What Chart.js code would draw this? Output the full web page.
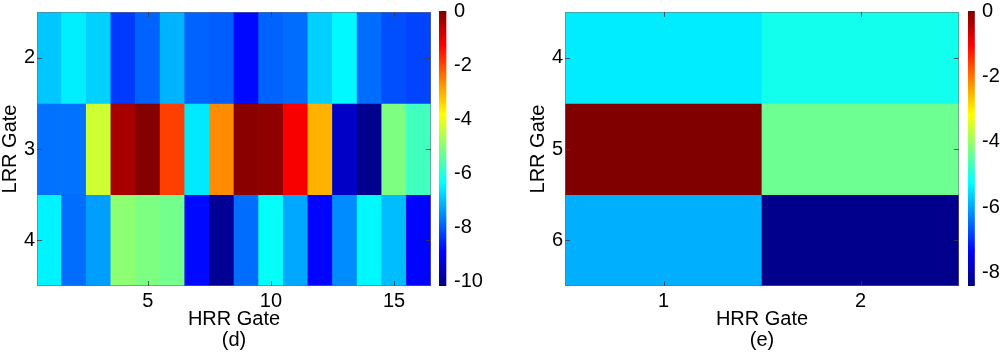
<!DOCTYPE html>
<html>
<head>
<meta charset="utf-8">
<script src="https://cdn.jsdelivr.net/npm/chart.js@4/dist/chart.umd.min.js"></script>
<style>
  html, body { margin: 0; padding: 0; background: #fff; }
  #wrap { position: relative; width: 1000px; height: 355px; overflow: hidden; background: #fff; }
  canvas { position: absolute; top: 0; }
</style>
</head>
<body>
<div id="wrap">
  <canvas id="hmD" width="440" height="355" style="left:0px"></canvas>
  <canvas id="cbD" width="61" height="355" style="left:439px"></canvas>
  <canvas id="hmE" width="440" height="355" style="left:528px"></canvas>
  <canvas id="cbE" width="32" height="355" style="left:968px"></canvas>
</div>
<script>
// ---------- Panel (d) data ----------
const hrrD = ['1','2','3','4','5','6','7','8','9','10','11','12','13','14','15','16'];
const hrrTicksD = ['5','10','15'];
const lrrD = [2, 3, 4];
const valsD2 = [-6.9, -6.5, -6.8, -8.3, -7.9, -7.1, -7.9, -7.95, -8.8, -7.9, -7.8, -6.8, -6.4, -7.8, -8.1, -8.2];
const valsD3 = [-7.75, -7.75, -4.3, -0.4, -0.05, -1.9, -6.55, -2.65, -0.1, -0.15, -1.2, -3.05, -9.45, -10.0, -5.1, -5.7];
const valsD4 = [-6.45, -7.8, -7.3, -4.95, -5.1, -5.2, -8.8, -9.95, -7.8, -6.3, -7.2, -8.85, -7.5, -6.4, -7.0, -8.85];
const rangeD = [-10.15, 0];
const cbTicksD = [0, -2, -4, -6, -8, -10];

// ---------- Panel (e) data ----------
const hrrE = ['1','2'];
const hrrTicksE = ['1','2'];
const lrrE = [4, 5, 6];
const valsE4 = [-5.4, -5.1];
const valsE5 = [0, -4.35];
const valsE6 = [-5.9, -8.3];
const rangeE = [-8.4, 0];
const cbTicksE = [0, -2, -4, -6, -8];

// ---------- helpers ----------
const FONT = { family: "'Liberation Sans', Arial, sans-serif", size: 20, lineHeight: 1 };
Chart.defaults.font.family = FONT.family;
Chart.defaults.color = '#000';

const jetStops = [[0,[0,0,128]],[0.125,[0,0,255]],[0.375,[0,255,255]],[0.625,[255,255,0]],[0.875,[255,0,0]],[1,[128,0,0]]];
function jet(t) {
  t = Math.max(0, Math.min(1, t));
  for (let i = 1; i < jetStops.length; i++) {
    const [t1, c1] = jetStops[i];
    const [t0, c0] = jetStops[i-1];
    if (t <= t1) {
      const f = (t - t0) / (t1 - t0);
      const c = c0.map((a, k) => Math.round(a + (c1[k] - a) * f));
      return `rgb(${c[0]},${c[1]},${c[2]})`;
    }
  }
  return 'rgb(128,0,0)';
}

const inwardTicks = {
  id: 'inwardTicks',
  afterDatasetsDraw(chart) {
    const {ctx, chartArea: a, scales: {x, y}} = chart;
    ctx.save();
    ctx.strokeStyle = 'rgba(110,110,110,0.55)';
    ctx.lineWidth = 1;
    ctx.strokeRect(a.left + 0.5, a.top + 0.5, a.right - a.left - 1, a.bottom - a.top - 1);
    ctx.strokeStyle = 'rgba(60,60,60,0.8)';
    const L = 5;
    x.ticks.forEach((t, i) => {
      if (t.label === '' || t.label == null) return;
      const px = Math.round(x.getPixelForTick(i)) + 0.5;
      ctx.beginPath();
      ctx.moveTo(px, a.bottom); ctx.lineTo(px, a.bottom - L);
      ctx.moveTo(px, a.top); ctx.lineTo(px, a.top + L);
      ctx.stroke();
    });
    y.ticks.forEach((t) => {
      const py = Math.round(y.getPixelForValue(t.value)) + 0.5;
      ctx.beginPath();
      ctx.moveTo(a.left, py); ctx.lineTo(a.left + L, py);
      ctx.moveTo(a.right, py); ctx.lineTo(a.right - L, py);
      ctx.stroke();
    });
    ctx.restore();
  }
};

function makeHeatmap(id, xLabels, xShown, rows, rowVals, range, caption) {
  const datasets = rows.map((r, i) => ({
    data: xLabels.map(() => [r - 0.5, r + 0.5]),
    backgroundColor: rowVals[i].map(v => jet((v - range[0]) / (range[1] - range[0]))),
    borderWidth: 0,
    grouped: false,
    barPercentage: 1,
    categoryPercentage: 1
  }));
  return new Chart(document.getElementById(id), {
    type: 'bar',
    data: { labels: xLabels, datasets },
    options: {
      responsive: false,
      animation: false,
      devicePixelRatio: 1,
      layout: { padding: { top: 10, right: 9, left: 0, bottom: 0 } },
      plugins: { legend: { display: false }, tooltip: { enabled: false } },
      scales: {
        x: {
          type: 'category',
          offset: true,
          grid: { display: false, drawTicks: false },
          border: { display: false },
          ticks: {
            font: FONT, padding: 5, autoSkip: false, maxRotation: 0,
            callback: function (v) { const l = this.getLabelForValue(v); return xShown.includes(l) ? l : ''; }
          },
          title: { display: true, text: ['HRR Gate', caption], font: { ...FONT, lineHeight: 1.06 }, padding: { top: 0, bottom: 4 } },
          afterFit: (s) => { s.height = 69; }
        },
        y: {
          type: 'linear',
          reverse: true,
          min: rows[0] - 0.5,
          max: rows[rows.length - 1] + 0.5,
          grid: { display: false, drawTicks: false },
          border: { display: false },
          ticks: { font: FONT, padding: 2 },
          afterBuildTicks: (s) => { s.ticks = rows.map(v => ({ value: v })); },
          title: { display: true, text: 'LRR Gate', font: FONT, padding: { top: 0, bottom: 0 } },
          afterFit: (s) => { s.width = 37; }
        }
      }
    },
    plugins: [inwardTicks]
  });
}

function makeColorbar(id, range, ticks, axisWidth) {
  return new Chart(document.getElementById(id), {
    type: 'bar',
    data: {
      labels: [''],
      datasets: [{
        data: [[range[0], range[1]]],
        borderWidth: 0,
        barPercentage: 1,
        categoryPercentage: 1,
        backgroundColor: (c) => {
          const a = c.chart.chartArea;
          if (!a) return 'rgb(0,0,255)';
          const g = c.chart.ctx.createLinearGradient(0, a.bottom, 0, a.top);
          jetStops.forEach(([t, col]) => g.addColorStop(t, `rgb(${col[0]},${col[1]},${col[2]})`));
          return g;
        }
      }]
    },
    options: {
      responsive: false,
      animation: false,
      devicePixelRatio: 1,
      layout: { padding: { top: 10, right: 0, left: 0, bottom: 69 } },
      plugins: { legend: { display: false }, tooltip: { enabled: false } },
      scales: {
        x: { display: false, offset: false },
        y: {
          position: 'right',
          min: range[0],
          max: range[1],
          grid: { display: false, drawTicks: false },
          border: { display: false },
          ticks: { font: FONT, padding: 1 },
          afterBuildTicks: (s) => { s.ticks = ticks.map(v => ({ value: v })); },
          afterFit: (s) => { s.width = axisWidth; }
        }
      }
    }
  });
}

makeHeatmap('hmD', hrrD, hrrTicksD, lrrD, [valsD2, valsD3, valsD4], rangeD, '(d)');
makeColorbar('cbD', rangeD, cbTicksD, 47);
makeHeatmap('hmE', hrrE, hrrTicksE, lrrE, [valsE4, valsE5, valsE6], rangeE, '(e)');
makeColorbar('cbE', rangeE, cbTicksE, 19);
</script>
</body>
</html>
